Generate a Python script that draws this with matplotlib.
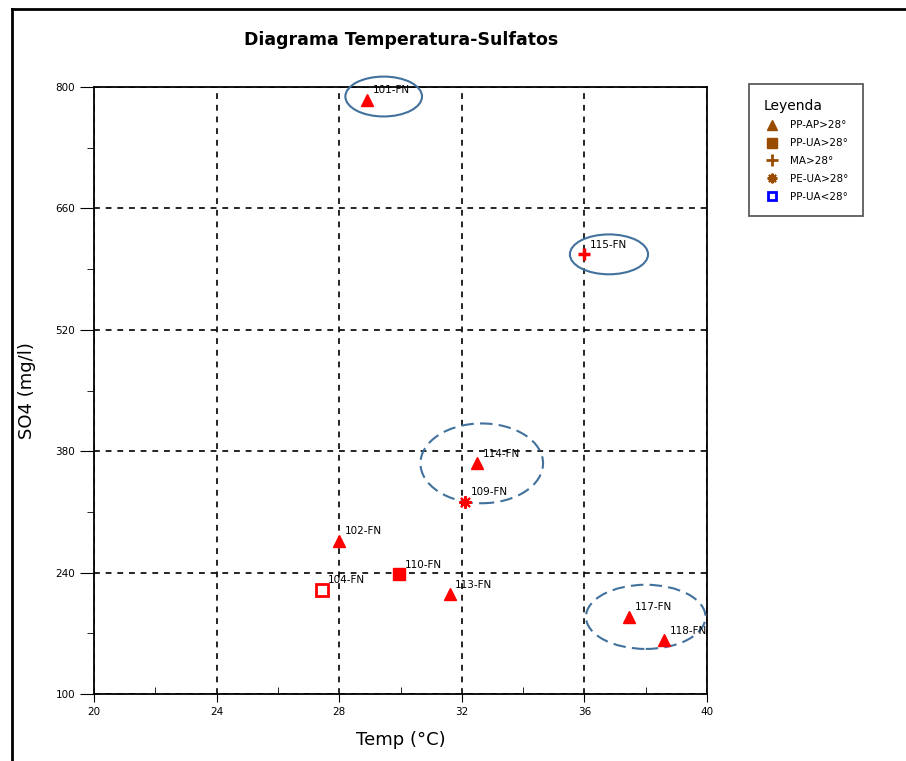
import matplotlib.pyplot as plt
from matplotlib.patches import Ellipse
from matplotlib.lines import Line2D

# --- data ---
labels = ['101-FN', '102-FN', '114-FN', '113-FN', '117-FN', '118-FN']
temp_tri = [28.9, 28.0, 32.5, 31.6, 37.45, 38.6]
so4_tri = [785, 277, 366, 215, 189, 162]

sq_label = '110-FN'
sq_temp = 29.95
sq_so4 = 238

open_label = '104-FN'
open_temp = 27.45
open_so4 = 220

plus_label = '115-FN'
plus_temp = 36.0
plus_so4 = 607

star_label = '109-FN'
star_temp = 32.1
star_so4 = 322

legend_names = ['PP-AP>28°', 'PP-UA>28°', 'MA>28°', 'PE-UA>28°', 'PP-UA<28°']

fig = plt.figure(figsize=(9.06, 7.61), dpi=100)
ax = fig.add_axes([0.1038, 0.088, 0.6766, 0.7977])

red = '#ff0000'
ax.plot(temp_tri, so4_tri, '^', color=red, markersize=9, linestyle='none', zorder=5)
ax.plot(sq_temp, sq_so4, 's', color=red, markersize=9, zorder=5)
ax.plot(open_temp, open_so4, 's', markerfacecolor='white', markeredgecolor=red,
        markeredgewidth=2, markersize=8, zorder=5)
ax.plot(plus_temp, plus_so4, '+', color=red, markersize=9, markeredgewidth=2.5, zorder=5)
ax.plot(star_temp, star_so4, marker=(8, 2, 0), color=red, markersize=9,
        markeredgewidth=1.5, zorder=5)

all_lab = labels + [sq_label, open_label, plus_label, star_label]
all_x = temp_tri + [sq_temp, open_temp, plus_temp, star_temp]
all_y = so4_tri + [sq_so4, open_so4, plus_so4, star_so4]
for t, x, y in zip(all_lab, all_x, all_y):
    ax.annotate(t, (x, y), xytext=(4, 7), textcoords='offset points',
                fontsize=7.5, ha='left', va='center', zorder=6)

# ellipses (center x, center y, width, height, dashed)
ecol = '#41719c'
ells = [(29.45, 789, 2.5, 46, False),
        (36.8, 607, 2.55, 46, False),
        (32.65, 366, 4.0, 92, True),
        (38.0, 189, 3.9, 74, True)]
for cx, cy, w, h, dsh in ells:
    e = Ellipse((cx, cy), w, h, fill=False, edgecolor=ecol, linewidth=1.5,
                linestyle=(0, (6, 3)) if dsh else '-', zorder=4, clip_on=False)
    ax.add_patch(e)

ax.set_xlim(20, 40)
ax.set_ylim(100, 800)
ax.set_xticks(range(20, 41, 4))
ax.set_xticks(range(22, 40, 4), minor=True)
ax.set_yticks(range(100, 801, 140))
ax.set_yticks(range(170, 800, 140), minor=True)
ax.tick_params(axis='x', which='major', direction='out', length=6, labelsize=7.5)
ax.tick_params(axis='x', which='minor', direction='in', length=5)
ax.tick_params(axis='y', which='major', direction='out', length=10, labelsize=7.5)
ax.tick_params(axis='y', which='minor', direction='out', length=5)
ax.grid(True, which='major', color='black', linestyle=(0, (3.5, 3.5)), linewidth=1.2)
for s in ax.spines.values():
    s.set_linewidth(1.3)

ax.set_xlabel('Temp (°C)', fontsize=13, labelpad=10)
ax.set_ylabel('SO4 (mg/l)', fontsize=13, labelpad=14)
fig.text(0.443, 0.948, 'Diagrama Temperatura-Sulfatos', fontsize=12.5,
         fontweight='bold', ha='center', va='center')

# legend
brown = '#994c00'
handles = [Line2D([], [], marker='^', color=brown, linestyle='none', markersize=7),
           Line2D([], [], marker='s', color=brown, linestyle='none', markersize=7),
           Line2D([], [], marker='+', color=brown, markeredgewidth=2,
                  linestyle='none', markersize=8),
           Line2D([], [], marker=(8, 2, 0), color=brown, markeredgewidth=1.5,
                  linestyle='none', markersize=7),
           Line2D([], [], marker='s', markerfacecolor='white', markeredgecolor='blue',
                  markeredgewidth=2, linestyle='none', markersize=6)]
leg = fig.legend(handles, legend_names, title='Leyenda', loc='upper left',
                 bbox_to_anchor=(0.827, 0.889), fontsize=7.5, title_fontsize=10,
                 frameon=True, fancybox=False, edgecolor='#333333',
                 handletextpad=1.0, handlelength=1.6, labelspacing=0.75,
                 borderpad=1.35, borderaxespad=0, alignment='left')
leg.get_frame().set_linewidth(1.3)

# outer frame of the picture
fig.add_artist(Line2D([0.0132, 0.0132], [0, 0.988], color='black', linewidth=2,
                      transform=fig.transFigure))
fig.add_artist(Line2D([0.0132, 1.0], [0.988, 0.988], color='black', linewidth=2,
                      transform=fig.transFigure))

fig.savefig('out.png', dpi=100)
